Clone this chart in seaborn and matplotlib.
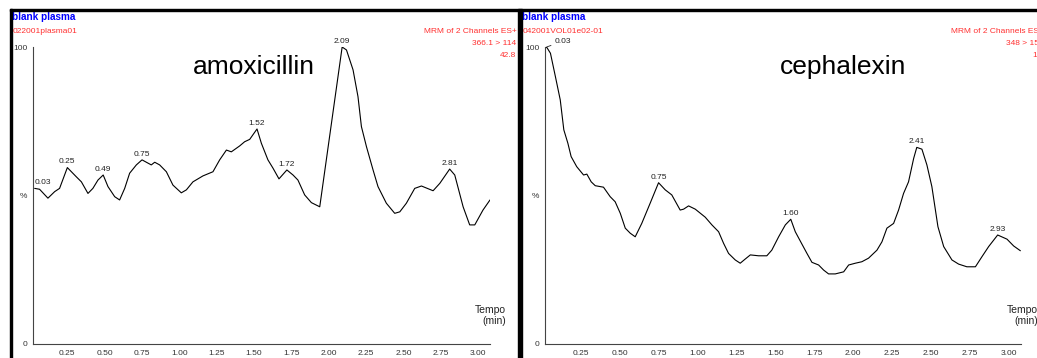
import numpy as np
import pandas as pd
import matplotlib
matplotlib.use("Agg")
import matplotlib.pyplot as plt
from matplotlib.patches import Rectangle
from matplotlib.ticker import MultipleLocator, FixedLocator
import seaborn as sns

# ==============================
# chromatogram data (time in min, relative intensity in %)
# ==============================
amox_time = [0.031, 0.064, 0.120, 0.165, 0.198, 0.250, 0.310, 0.344, 0.388, 0.421,
             0.455, 0.490, 0.522, 0.567, 0.600, 0.634, 0.667, 0.712, 0.750, 0.779,
             0.812, 0.835, 0.868, 0.913, 0.957, 1.013, 1.047, 1.091, 1.158, 1.225,
             1.270, 1.315, 1.348, 1.404, 1.437, 1.471, 1.520, 1.549, 1.593, 1.627,
             1.667, 1.720, 1.761, 1.794, 1.839, 1.884, 1.940, 2.090, 2.119, 2.163,
             2.196, 2.219, 2.253, 2.297, 2.330, 2.386, 2.442, 2.476, 2.520, 2.576,
             2.621, 2.699, 2.744, 2.810, 2.844, 2.900, 2.944, 2.978, 3.033, 3.080]
amox_int = [52.4, 52.1, 49.1, 51.3, 52.4, 59.4, 56.3, 54.6, 50.7, 52.4,
            55.2, 56.9, 53.0, 49.6, 48.5, 52.4, 57.5, 60.3, 62.0, 61.2,
            60.3, 61.2, 60.3, 58.0, 53.5, 50.9, 51.9, 54.6, 56.6, 58.0,
            62.0, 65.3, 64.7, 66.7, 68.1, 68.9, 72.4, 67.6, 62.0, 59.2,
            55.6, 58.6, 56.9, 55.2, 50.2, 47.6, 46.2, 100.0, 99.0, 92.3,
            83.3, 73.2, 66.4, 58.6, 53.0, 47.4, 44.0, 44.5, 47.4, 52.4,
            53.2, 51.6, 54.1, 58.9, 56.9, 46.2, 40.1, 40.1, 45.1, 48.5]
amox_peaks = [0.03, 0.25, 0.49, 0.75, 1.52, 1.72, 2.09, 2.81]

ceph_time = [0.023, 0.030, 0.055, 0.087, 0.118, 0.141, 0.167, 0.188, 0.224, 0.268,
             0.289, 0.317, 0.343, 0.396, 0.439, 0.471, 0.504, 0.536, 0.568, 0.600,
             0.642, 0.696, 0.750, 0.793, 0.835, 0.889, 0.911, 0.943, 0.986, 1.050,
             1.093, 1.136, 1.168, 1.200, 1.243, 1.275, 1.307, 1.340, 1.393, 1.446,
             1.478, 1.522, 1.565, 1.600, 1.629, 1.671, 1.704, 1.736, 1.779, 1.811,
             1.843, 1.886, 1.940, 1.972, 2.015, 2.057, 2.100, 2.154, 2.186, 2.218,
             2.261, 2.293, 2.325, 2.357, 2.390, 2.410, 2.443, 2.475, 2.507, 2.546,
             2.583, 2.636, 2.679, 2.732, 2.787, 2.829, 2.872, 2.930, 2.990, 3.033,
             3.076]
ceph_int = [99.7, 100.0, 97.9, 90.0, 82.2, 72.1, 67.6, 63.1, 59.7, 56.9,
            57.2, 54.6, 53.3, 52.8, 49.6, 47.9, 44.0, 39.0, 37.3, 36.1,
            40.6, 47.4, 54.3, 51.9, 50.2, 45.1, 45.4, 46.5, 45.4, 42.7,
            40.1, 37.8, 33.9, 30.5, 28.3, 27.2, 28.6, 30.0, 29.7, 29.7,
            31.6, 36.1, 40.1, 42.0, 37.8, 33.7, 30.5, 27.5, 26.6, 24.9,
            23.6, 23.6, 24.3, 26.6, 27.2, 27.7, 28.9, 31.6, 34.4, 39.0,
            40.6, 45.1, 50.7, 54.6, 62.5, 66.2, 65.6, 60.3, 53.0, 39.5,
            32.8, 28.3, 26.9, 26.0, 26.0, 29.4, 32.8, 36.7, 35.3, 33.0,
            31.4]
ceph_peaks = [0.03, 0.75, 1.60, 2.41, 2.93]

compounds = ["amoxicillin", "cephalexin"]
sample_ids = ["022001plasma01", "042001VOL01e02-01"]
channel_text = [["MRM of 2 Channels ES+", "366.1 > 114", "42.8"],
                ["MRM of 2 Channels ES+", "348 > 158", "1.2"]]
x_major = [0.25, 0.50, 0.75, 1.00, 1.25, 1.50, 1.75, 2.00, 2.25, 2.50, 2.75, 3.00]
y_ticks = [0, 10, 20, 30, 40, 50, 60, 70, 80, 90, 100]
y_labels = ["0", "", "", "", "", "%", "", "", "", "", "100"]

traces = [pd.DataFrame({"time": amox_time, "intensity": amox_int}),
          pd.DataFrame({"time": ceph_time, "intensity": ceph_int})]
peaks = [amox_peaks, ceph_peaks]

# ==============================
# figure
# ==============================
sns.set_style("white")
plt.rcParams['font.family'] = ['Liberation Sans', 'DejaVu Sans']

W, H = 1037, 358
fig = plt.figure(figsize=(W / 100, H / 100), dpi=100)

def fx(px):
    return px / W

def fy(py):
    return 1 - py / H

# panel frames (black borders)
for (x0, y0, w, h) in [(10, 9, 2, 349), (10, 9, 1027, 2), (518, 9, 3.5, 349)]:
    fig.patches.append(Rectangle((fx(x0), fy(y0 + h)), w / W, h / H,
                                 transform=fig.transFigure, color="black", zorder=5))

axes_px = [(33, 490), (545, 1021)]
panel_left = [12, 522]
panel_right = [516.5, 1044]
title_x = [254, 843]

for i in range(2):
    left, right = axes_px[i]
    ax = fig.add_axes([fx(left), fy(344), (right - left) / W, 297 / H])
    sns.lineplot(data=traces[i], x="time", y="intensity", ax=ax, color="black",
                 linewidth=0.8, sort=False, estimator=None)
    ax.set_xlim(0.02, 3.08)
    ax.set_ylim(0, 100)
    ax.set_xlabel("")
    ax.set_ylabel("")
    sns.despine(ax=ax)
    for s in ["left", "bottom"]:
        ax.spines[s].set_linewidth(0.8)
        ax.spines[s].set_color("#444444")

    ax.xaxis.set_major_locator(FixedLocator(x_major))
    ax.set_xticklabels([f"{v:.2f}" for v in x_major])
    ax.xaxis.set_minor_locator(MultipleLocator(0.05))
    ax.set_yticks(y_ticks)
    ax.set_yticklabels(y_labels)
    ax.tick_params(axis="both", which="major", labelsize=6, colors="#333333",
                   length=3, width=0.6, pad=1, direction="out")
    ax.tick_params(axis="x", which="minor", length=1.8, width=0.5,
                   colors="#333333", direction="out")
    ax.tick_params(axis="x", which="major", length=3.5)

    # peak labels
    t = traces[i]
    for j, p in enumerate(peaks[i]):
        yv = np.interp(p, t["time"], t["intensity"])
        if j == 0 and i == 0:
            ax.annotate(f"{p:.2f}", (p, yv), xytext=(0, 1.5), textcoords="offset points",
                        ha="left", va="bottom", fontsize=6, color="#222222")
        elif j == 0 and i == 1:
            ax.annotate(f"{p:.2f}", (p, yv), xytext=(11.5, 4), textcoords="offset points",
                        ha="center", va="center", fontsize=6, color="#222222",
                        annotation_clip=False,
                        arrowprops=dict(arrowstyle="-", color="#222222", lw=0.6,
                                        shrinkA=4, shrinkB=0))
        else:
            ax.annotate(f"{p:.2f}", (p, yv), xytext=(0, 1.5), textcoords="offset points",
                        ha="center", va="bottom", fontsize=6, color="#222222")

    ax.text(1.035, 0.095, "Tempo\n(min)", transform=ax.transAxes, ha="right",
            va="center", fontsize=7.5, color="#222222", multialignment="right",
            linespacing=1.15)

    # header text
    fig.text(fx(panel_left[i]), fy(16.7), "blank plasma", color="#0000ff",
             fontsize=7.2, fontweight="bold", ha="left", va="center")
    fig.text(fx(panel_left[i] + 1), fy(31.7), sample_ids[i], color="#ff3030",
             fontsize=6, ha="left", va="center")
    for k, line in enumerate(channel_text[i]):
        fig.text(fx(panel_right[i]), fy(31.7 + 11.8 * k), line, color="#ff3030",
                 fontsize=6, ha="right", va="center")
    fig.text(fx(title_x[i]), fy(74), compounds[i], fontsize=19, ha="center",
             va="baseline", color="black")

fig.savefig("out.png", dpi=100)
